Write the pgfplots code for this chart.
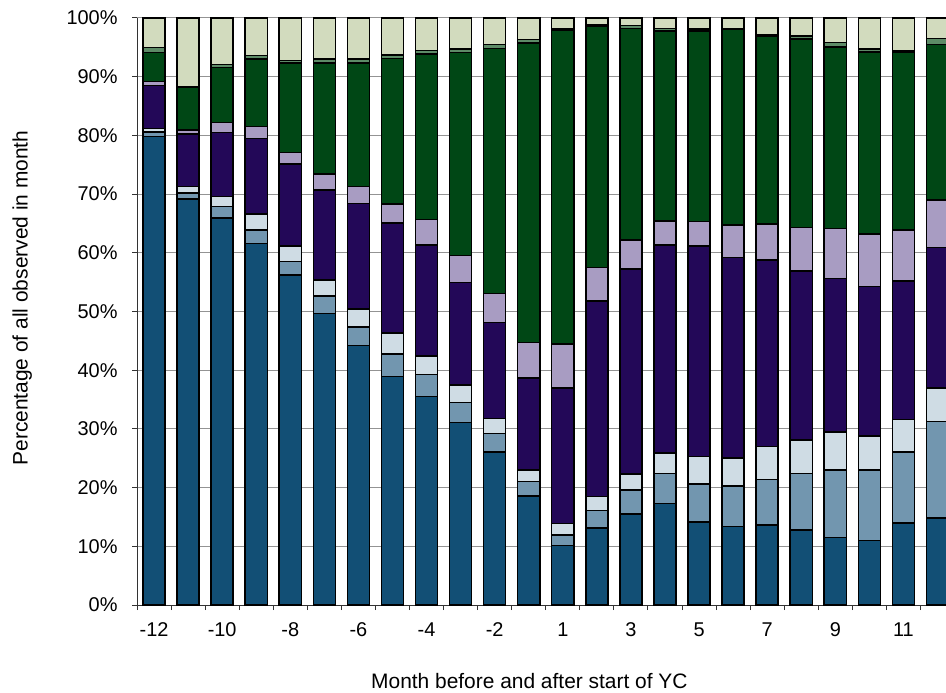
\documentclass[border=0pt]{standalone}
\usepackage{pgfplots}
\pgfplotsset{compat=1.18}
\usepackage{pgfplotstable}
\usepackage{fontspec}
\setmainfont{Liberation Sans}
\definecolor{c1}{HTML}{124F75}
\definecolor{c2}{HTML}{7296AF}
\definecolor{c3}{HTML}{CFDCE4}
\definecolor{c4}{HTML}{230858}
\definecolor{c5}{HTML}{A89CC2}
\definecolor{c6}{HTML}{004715}
\definecolor{c7}{HTML}{5D8B67}
\definecolor{c8}{HTML}{D2DBBE}

\pgfplotstableread{
x  L1   L2   L3  L4   L5  L6   L7  L8
0  79.8 0.8  0.6 7.3  0.7 4.9  0.9 5.0
1  69.2 1.0  1.1 8.9  0.7 7.3  0.1 11.7
2  65.9 2.0  1.7 10.9 1.7 9.4  0.5 7.9
3  61.6 2.3  2.7 12.9 2.0 11.5 0.6 6.4
4  56.2 2.3  2.7 13.9 2.0 15.2 0.5 7.2
5  49.7 2.9  2.8 15.3 2.7 18.9 0.7 7.0
6  44.2 3.2  3.0 18.0 2.9 21.0 0.7 7.0
7  38.9 3.9  3.5 18.8 3.2 24.8 0.6 6.3
8  35.5 3.8  3.1 18.9 4.4 28.2 0.6 5.5
9  31.1 3.4  3.0 17.4 4.6 34.6 0.6 5.3
10 26.1 3.1  2.6 16.3 5.0 41.7 0.7 4.5
11 18.6 2.4  2.0 15.7 6.0 51.0 0.6 3.7
12 10.1 1.8  2.0 23.1 7.5 53.4 0.2 1.9
13 13.1 3.0  2.4 33.3 5.7 41.1 0.3 1.1
14 15.5 4.1  2.7 34.9 5.0 36.0 0.5 1.3
15 17.3 5.1  3.5 35.4 4.1 32.4 0.4 1.8
16 14.1 6.5  4.7 35.9 4.1 32.5 0.3 1.9
17 13.4 6.9  4.7 34.2 5.5 33.3 0.2 1.8
18 13.6 7.8  5.6 31.8 6.1 32.0 0.3 2.8
19 12.8 9.6  5.7 28.8 7.4 32.1 0.5 3.1
20 11.5 11.5 6.5 26.1 8.5 31.0 0.7 4.2
21 11.0 12.0 5.8 25.5 8.9 31.0 0.5 5.3
22 14.0 12.1 5.5 23.6 8.7 30.3 0.3 5.5
23 14.8 16.5 5.7 23.9 8.1 26.5 1.0 3.5
}\data

\begin{document}
\begin{tikzpicture}
\useasboundingbox (0,0) rectangle (946bp,693bp);
\begin{axis}[
  at={(137bp,88bp)}, anchor=south west,
  scale only axis, width=809bp, height=587bp,
  xmin=-0.5, xmax=23.25, ymin=0, ymax=100,
  ybar stacked, bar width=0.65,
  axis lines*=left,
  axis line style={black!80, line width=1bp},
  tick style={black!80, line width=1bp},
  major tick length=5bp, tick align=outside,
  ytick={0,10,...,100},
  yticklabel={\pgfmathprintnumber{\tick}\%},
  yticklabel style={xshift=-11bp},
  xtick={-0.5,0.5,...,23.5},
  xticklabels={-12,,-10,,-8,,-6,,-4,,-2,,1,,3,,5,,7,,9,,11,,},
  xticklabel style={xshift=17.03bp, yshift=-9bp},
  ymajorgrids,
  major grid style={gray!85, line width=1bp},
  /pgf/number format/assume math mode=true,
  every tick label/.append style={font=\fontsize{20}{24}\selectfont},
  label style={font=\fontsize{21}{25}\selectfont},
  xlabel={Month before and after start of YC},
  ylabel={Percentage of all observed in month},
  xlabel style={at={(axis description cs:0.485,-0.129)}, anchor=center},
  ylabel style={at={(axis description cs:-0.142,0.523)}, anchor=center},
]
\addplot[fill=c1, draw=black, line width=1.5bp] table[x=x,y=L1]{\data};
\addplot[fill=c2, draw=black, line width=1.5bp] table[x=x,y=L2]{\data};
\addplot[fill=c3, draw=black, line width=1.5bp] table[x=x,y=L3]{\data};
\addplot[fill=c4, draw=black, line width=1.5bp] table[x=x,y=L4]{\data};
\addplot[fill=c5, draw=black, line width=1.5bp] table[x=x,y=L5]{\data};
\addplot[fill=c6, draw=black, line width=1.5bp] table[x=x,y=L6]{\data};
\addplot[fill=c7, draw=black, line width=1.5bp] table[x=x,y=L7]{\data};
\addplot[fill=c8, draw=black, line width=1.5bp] table[x=x,y=L8]{\data};
\end{axis}
\end{tikzpicture}
\end{document}
